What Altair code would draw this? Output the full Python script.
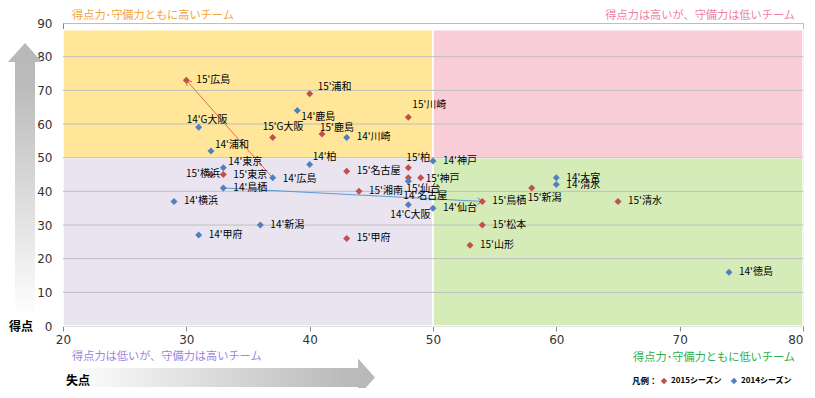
import math
import altair as alt
import pandas as pd

# ---------------- data ----------------
teams15 = ["広島", "浦和", "G大阪", "鹿島", "川崎", "東京", "横浜", "柏", "名古屋",
           "神戸", "仙台", "湘南", "甲府", "鳥栖", "新潟", "松本", "山形", "清水"]
gf15 = [73, 69, 56, 57, 62, 45, 45, 47, 46, 44, 44, 40, 26, 37, 41, 30, 24, 37]
ga15 = [30, 40, 37, 41, 48, 33, 32, 48, 43, 49, 48, 44, 43, 54, 58, 54, 53, 65]

teams14 = ["鹿島", "G大阪", "川崎", "浦和", "東京", "柏", "広島", "鳥栖", "横浜",
           "神戸", "名古屋", "C大阪", "仙台", "新潟", "甲府", "大宮", "清水", "徳島"]
gf14 = [64, 59, 56, 52, 47, 48, 44, 41, 37, 49, 43, 36, 35, 30, 27, 44, 42, 16]
ga14 = [39, 31, 43, 32, 33, 40, 37, 33, 29, 50, 48, 48, 50, 36, 31, 60, 60, 74]

series_names = ["2015シーズン", "2014シーズン"]
series_prefix = ["15'", "14'"]
series_colors = ["#C0504D", "#4F81BD"]

arrow_teams = ["広島", "鳥栖"]
arrow_colors = ["#E2694C", "#5B9BD5"]

x_ticks = [20, 30, 40, 50, 60, 70, 80]
y_ticks = [0, 10, 20, 30, 40, 50, 60, 70, 80, 90]

quad_x = [20, 50, 20, 50]
quad_x2 = [50, 80, 50, 80]
quad_y = [50, 50, 0, 0]
quad_y2 = [88, 88, 50, 50]
quad_colors = ["#FFE699", "#F8CDD8", "#E9E4F0", "#D5ECB8"]

corner_texts = ["得点力･守備力ともに高いチーム", "得点力は高いが、守備力は低いチーム",
                "得点力は低いが、守備力は高いチーム", "得点力･守備力ともに低いチーム"]
corner_colors = ["#F2A43A", "#F07FA6", "#9A86E4", "#2BB04D"]

# ---------------- layout / style ----------------
W, H = 740, 303
FONT = "Noto Sans CJK JP"

label_offsets = {
    "15'浦和": (8, -7), "14'鹿島": (4, 6), "15'川崎": (4, -12), "14'G大阪": (-12, -7),
    "15'G大阪": (-10, -10), "15'鹿島": (-2, -6), "14'浦和": (4, -6), "14'東京": (5, -6),
    "15'横浜": (-25, -1), "14'広島": (10, 1), "14'柏": (3, -7), "15'柏": (-2, -10),
    "15'神戸": (5, 1), "15'仙台": (-2, 11), "14'名古屋": (-5, 15), "14'C大阪": (-18, 10),
    "15'新潟": (-4, 10),
}

rows = []
for s, (teams, gf, ga) in enumerate([(teams15, gf15, ga15), (teams14, gf14, ga14)]):
    for t, g, a in zip(teams, gf, ga):
        rows.append({"x": a, "y": g, "series": series_names[s],
                     "label": series_prefix[s] + t, "team": t})
pts = pd.DataFrame(rows)

quads = pd.DataFrame({"x": quad_x, "x2": quad_x2, "y": quad_y, "y2": quad_y2,
                      "c": quad_colors})
grid = pd.DataFrame({"y": y_ticks[1:-1], "x": [20] * 8, "x2": [80] * 8})

arr_rows = []
for team, col in zip(arrow_teams, arrow_colors):
    a = pts[(pts.team == team) & (pts.series == series_names[1])].iloc[0]
    b = pts[(pts.team == team) & (pts.series == series_names[0])].iloc[0]
    dxp = (b.x - a.x) * W / 60.0
    dyp = -(b.y - a.y) * H / 90.0
    ang = math.degrees(math.atan2(dyp, dxp)) % 360
    arr_rows.append({"x": a.x, "y": a.y, "x2": b.x, "y2": b.y, "c": col, "angle": ang})
arrows = pd.DataFrame(arr_rows)

xscale = alt.Scale(domain=[20, 80], nice=False, zero=False)
yscale = alt.Scale(domain=[0, 90], nice=False, zero=False)
xaxis = alt.Axis(values=x_ticks, title=None, grid=False, labelFontSize=12,
                 labelFont="DejaVu Sans", labelColor="#333333", tickColor="#888888",
                 domainColor="#888888", tickSize=5, labelPadding=3, labelFlush=False,
                 labelAlign=alt.condition("datum.value == 80",
                                          alt.value("right"), alt.value("center")))
yaxis = alt.Axis(values=y_ticks, title=None, grid=False, labelFontSize=12,
                 labelFont="DejaVu Sans", labelColor="#333333", ticks=False,
                 domainColor="#888888", labelPadding=11)


def X(f="x"):
    return alt.X(f + ":Q", scale=xscale, axis=xaxis)


def Y(f="y"):
    return alt.Y(f + ":Q", scale=yscale, axis=yaxis)


bg = alt.Chart(quads).mark_rect(stroke="white", strokeWidth=1.5).encode(
    x=X(), x2="x2:Q", y=Y(), y2="y2:Q", fill=alt.Fill("c:N", scale=None))

gridlines = alt.Chart(grid).mark_rule(color="#BFBFBF", strokeWidth=1).encode(
    x=X(), x2="x2:Q", y=Y())

arrow_lines = alt.Chart(arrows).mark_rule(strokeWidth=1).encode(
    x=X(), y=Y(), x2="x2:Q", y2="y2:Q", color=alt.Color("c:N", scale=None))

arrow_heads = alt.Chart(arrows).mark_point(
    shape="M -1.6 -1.1 L 0 0 L -1.6 1.1", size=36, filled=False, strokeWidth=1,
    opacity=1).encode(
    x=X("x2"), y=Y("y2"), stroke=alt.Stroke("c:N", scale=None),
    angle=alt.Angle("angle:Q", scale=None))

points = alt.Chart(pts).mark_point(shape="diamond", filled=True, size=49, opacity=1).encode(
    x=X(), y=Y(),
    color=alt.Color("series:N",
                    scale=alt.Scale(domain=series_names, range=series_colors),
                    legend=alt.Legend(orient="none", legendX=569, legendY=354,
                                      direction="horizontal", title="凡例：",
                                      titleOrient="left", titleFont=FONT,
                                      titleFontSize=8.5, titleFontWeight="bold",
                                      titleColor="#000000", titlePadding=2,
                                      labelFont=FONT, labelFontSize=8,
                                      labelFontWeight="bold", labelColor="#000000",
                                      symbolType="diamond", symbolSize=42,
                                      symbolStrokeWidth=0, symbolOpacity=1,
                                      columnPadding=8, labelOffset=3)))

groups = {}
for lbl in pts.label:
    groups.setdefault(label_offsets.get(lbl, (10, 0)), []).append(lbl)
text_layers = []
for (dx, dy), lbls in groups.items():
    text_layers.append(
        alt.Chart(pts[pts.label.isin(lbls)]).mark_text(
            align="left", baseline="middle", dx=dx, dy=dy, font=FONT,
            fontSize=10, color="#000000").encode(x=X(), y=Y(), text="label:N"))

one = pd.DataFrame({"d": [0]})

corner_pos = [(9, -13, "left", "top"), (732, -13, "right", "top"),
              (9, 334, "left", "middle"), (732, 335, "right", "middle")]
corner_layers = []
for (cx, cy, al, bl), txt, col in zip(corner_pos, corner_texts, corner_colors):
    corner_layers.append(alt.Chart(one).mark_text(
        text=txt, align=al, baseline=bl, font=FONT, fontSize=11.2, color=col,
        x=cx, y=cy))

vgrad = alt.LinearGradient(gradient="linear", x1=0, y1=1, x2=0, y2=0, stops=[
    alt.GradientStop(offset=0, color="#FFFFFF"),
    alt.GradientStop(offset=0.85, color="#BBBBBB"),
    alt.GradientStop(offset=1, color="#B8B8B8")])
hgrad = alt.LinearGradient(gradient="linear", x1=0, y1=0, x2=1, y2=0, stops=[
    alt.GradientStop(offset=0, color="#FFFFFF"),
    alt.GradientStop(offset=0.9, color="#BBBBBB"),
    alt.GradientStop(offset=1, color="#B8B8B8")])

v_arrow = alt.Chart(one).mark_point(
    shape="M 0 -137.5 L 17 -118.5 L 10 -118.5 L 10 137.5 L -10 137.5 L -10 -118.5 L -17 -118.5 Z",
    size=4, filled=True, fill=vgrad, strokeWidth=0, opacity=1, x=-38, y=157.5)
h_arrow = alt.Chart(one).mark_point(
    shape="M 155 0 L 138 -19 L 138 -9.5 L -155 -9.5 L -155 9.5 L 138 9.5 L 138 19 Z",
    size=4, filled=True, fill=hgrad, strokeWidth=0, opacity=1, x=157, y=354.5)

y_name = alt.Chart(one).mark_text(text="得点", align="center", baseline="middle",
                                  font=FONT, fontSize=12, fontWeight="bold",
                                  color="#000000", x=-42, y=304)
x_name = alt.Chart(one).mark_text(text="失点", align="center", baseline="middle",
                                  font=FONT, fontSize=12, fontWeight="bold",
                                  color="#000000", x=15, y=358)

chart = alt.layer(
    bg, gridlines, arrow_lines, arrow_heads, points, *text_layers, *corner_layers,
    v_arrow, h_arrow, y_name, x_name
).properties(
    width=W, height=H,
    autosize=alt.AutoSizeParams(type="none"),
    padding={"left": 55, "top": 15, "right": 4, "bottom": 62},
    background="white",
).configure_view(stroke="#BFBFBF", strokeWidth=1)

chart.save("out.html", embed_options={"renderer": "svg", "actions": False})
